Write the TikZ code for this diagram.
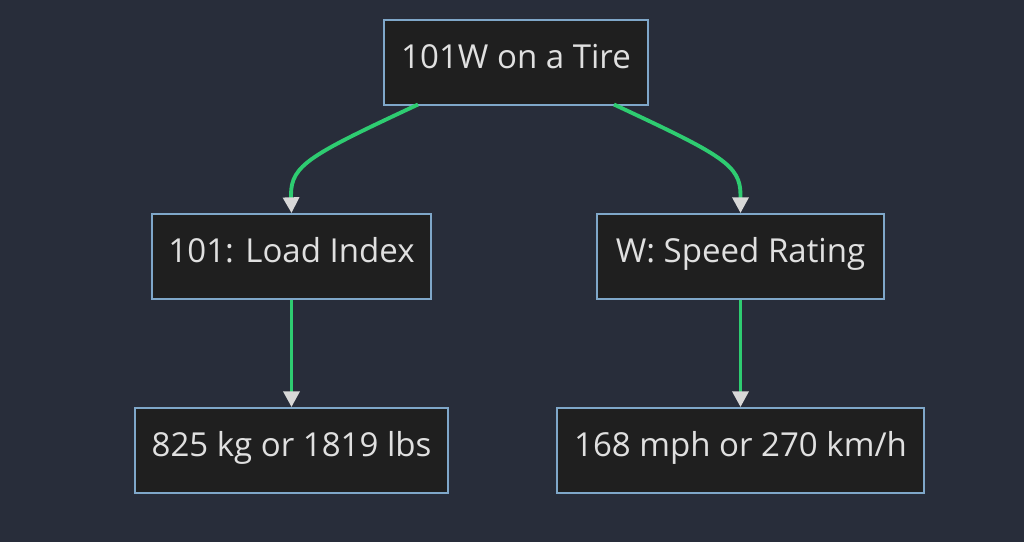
\documentclass[tikz,border=0pt]{standalone}
\usepackage{fontspec}
\setmainfont{Open Sans}
\usetikzlibrary{arrows.meta}
\definecolor{bg}{HTML}{282D3A}
\definecolor{boxf}{HTML}{1F1F1F}
\definecolor{boxd}{HTML}{7FA7C9}
\definecolor{edge}{HTML}{2ECC71}
\definecolor{tip}{HTML}{D8D8D8}
\definecolor{txt}{HTML}{E0E0E0}
\begin{document}
\begin{tikzpicture}[x=0.02cm,y=-0.02cm,
  box/.style={draw=boxd,fill=boxf,line width=1pt,text=txt,font=\fontsize{18.8}{22}\selectfont,inner sep=0pt,text height=10pt,text depth=3pt,minimum height=1.7cm},
  link/.style={draw=edge,line width=2.2pt,-{Triangle[color=tip,length=9pt,width=9pt]}}]
\fill[bg] (0,0) rectangle (1024,542);
\node[box,minimum width=5.28cm] (top) at (516,62.5) {101W on a Tire};
\node[box,minimum width=5.58cm] (load) at (291.5,256.5) {101: Load Index};
\node[box,minimum width=5.74cm] (speed) at (740.5,256.5) {W: Speed Rating};
\node[box,minimum width=6.26cm] (kg) at (291.5,450.5) {825 kg or 1819 lbs};
\node[box,minimum width=7.34cm] (mph) at (740.5,450.5) {168 mph or 270 km/h};
\coordinate (a1) at (418,104.5);
\coordinate (a2) at (614,104.5);
\draw[link] (a1) .. controls (310,155) and (291,165) .. (291,195) -- (load.north);
\draw[link] (a2) .. controls (722,155) and (740.5,165) .. (740.5,195) -- (speed.north);
\draw[link] (load) -- (kg);
\draw[link] (speed) -- (mph);
\end{tikzpicture}
\end{document}
